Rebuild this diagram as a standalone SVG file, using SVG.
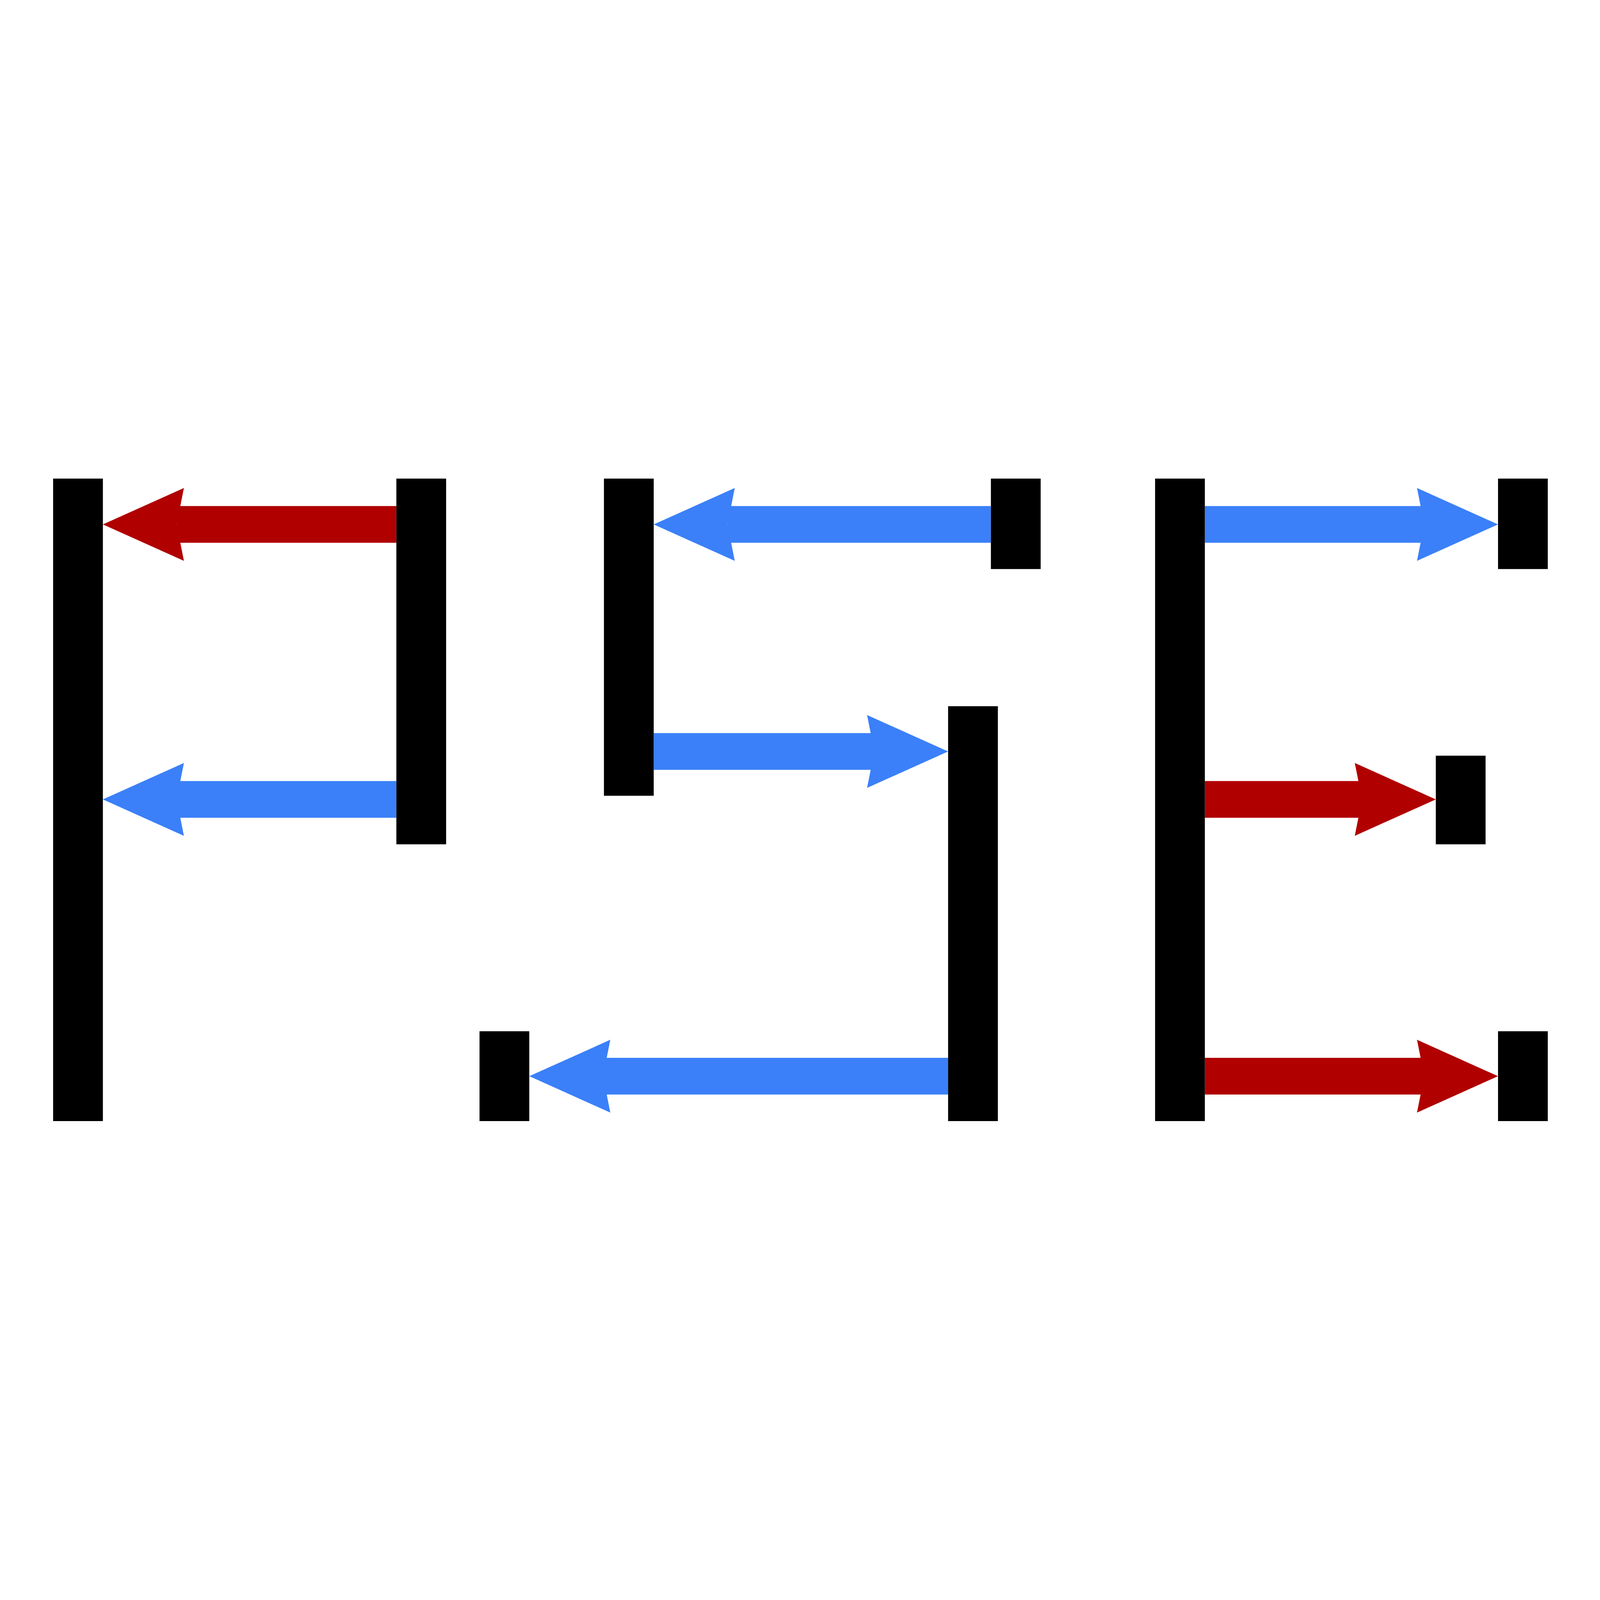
<svg xmlns="http://www.w3.org/2000/svg" width="5272" height="5272" viewBox="0 0 5272 5272" style="width:100vw;height:100vh;display:block">
  <style>
    .node { fill: #000000; }
    .c { fill: none; stroke-width: 121; stroke-linecap: butt; }
    .red { stroke: #B00000; }
    .blue { stroke: #3B80F8; }
  </style>
  <defs>
    <marker id="headRed" markerUnits="userSpaceOnUse" viewBox="-30 -125 280 250" markerWidth="280" markerHeight="250" refX="0" refY="0" orient="auto">
      <path d="M-24,-120 L243,0 L-24,120 L0,0 Z" fill="#B00000"/>
    </marker>
    <marker id="headBlue" markerUnits="userSpaceOnUse" viewBox="-30 -125 280 250" markerWidth="280" markerHeight="250" refX="0" refY="0" orient="auto">
      <path d="M-24,-120 L243,0 L-24,120 L0,0 Z" fill="#3B80F8"/>
    </marker>
  </defs>
  <rect width="5272" height="5272" fill="#FFFFFF"/>
  <g id="connectors">
    <line class="c red" x1="1306" y1="1728" x2="582" y2="1728" marker-end="url(#headRed)"/>
    <line class="c blue" x1="1306" y1="2634" x2="582" y2="2634" marker-end="url(#headBlue)"/>
    <line class="c blue" x1="3265" y1="1728" x2="2397" y2="1728" marker-end="url(#headBlue)"/>
    <line class="c blue" x1="2154" y1="2476" x2="2881" y2="2476" marker-end="url(#headBlue)"/>
    <line class="c blue" x1="3124" y1="3546" x2="1987" y2="3546" marker-end="url(#headBlue)"/>
    <line class="c blue" x1="3970" y1="1728" x2="4693" y2="1728" marker-end="url(#headBlue)"/>
    <line class="c red" x1="3970" y1="2634" x2="4488" y2="2634" marker-end="url(#headRed)"/>
    <line class="c red" x1="3970" y1="3546" x2="4693" y2="3546" marker-end="url(#headRed)"/>
  </g>
  <g id="n1"><rect class="node" x="175" y="1577" width="164" height="2117"/></g>
  <g id="n2"><rect class="node" x="1306" y="1577" width="164" height="1205"/></g>
  <g id="n3"><rect class="node" x="1990" y="1577" width="164" height="1045"/></g>
  <g id="n4"><rect class="node" x="3265" y="1577" width="164" height="298"/></g>
  <g id="n5"><rect class="node" x="3124" y="2327" width="164" height="1367"/></g>
  <g id="n6"><rect class="node" x="1580" y="3398" width="164" height="296"/></g>
  <g id="n7"><rect class="node" x="3806" y="1577" width="164" height="2117"/></g>
  <g id="n8"><rect class="node" x="4936" y="1577" width="164" height="298"/></g>
  <g id="n9"><rect class="node" x="4731" y="2490" width="164" height="292"/></g>
  <g id="n10"><rect class="node" x="4936" y="3398" width="164" height="296"/></g>
</svg>
